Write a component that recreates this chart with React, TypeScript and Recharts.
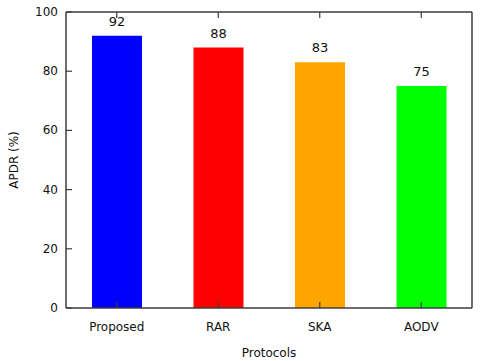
import React from 'react';
import { BarChart, Bar, XAxis, YAxis, LabelList, Cell } from 'recharts';

const protocols = ['Proposed', 'RAR', 'SKA', 'AODV'];
const apdr = [92, 88, 83, 75];
const barColors = ['#0000FF', '#FF0000', '#FFA500', '#00FF00'];
const yTicks = [0, 20, 40, 60, 80, 100];

const data = protocols.map((name, i) => ({ name, apdr: apdr[i] }));

const FONT = '"DejaVu Sans", Verdana, sans-serif';
const EDGE = '#3c3c3c';

const LeftTick = (props: any) => {
  const { x, y, payload } = props;
  return (
    <g>
      <line x1={x + 8} x2={x + 14} y1={y} y2={y} stroke={EDGE} strokeWidth={1.2} />
      <text x={x} y={y} dy={4} textAnchor="end" fontSize={12} fontFamily={FONT} fill="#111">
        {payload.value}
      </text>
    </g>
  );
};

// right and top frame ticks point inward, no labels
const RightTick = (props: any) => {
  const { x, y } = props;
  return <line x1={x - 6} x2={x} y1={y} y2={y} stroke={EDGE} strokeWidth={1.2} />;
};

const TopTick = (props: any) => {
  const { x, y } = props;
  return <line x1={x} x2={x} y1={y} y2={y + 6} stroke={EDGE} strokeWidth={1.2} />;
};

const BottomTick = (props: any) => {
  const { x, y, payload } = props;
  return (
    <g>
      <line x1={x} x2={x} y1={y - 14} y2={y - 20} stroke={EDGE} strokeWidth={1.2} />
      <text x={x} y={y} dy="0.71em" textAnchor="middle" fontSize={12} fontFamily={FONT} fill="#111">
        {payload.value}
      </text>
    </g>
  );
};

export default function App() {
  return (
    <div style={{ position: 'absolute', left: 0, top: 0, background: '#fff' }}>
      <BarChart
        width={480}
        height={361}
        data={data}
        margin={{ top: 11, right: 7, left: 0, bottom: 0 }}
        barSize={50}
      >
        <XAxis
          dataKey="name"
          height={53}
          tickSize={0}
          tickMargin={14}
          tick={<BottomTick />}
          axisLine={{ stroke: EDGE, strokeWidth: 1.5 }}
          tickLine={false}
          label={{ value: 'Protocols', position: 'insideBottom', offset: 4, fontSize: 12, fontFamily: FONT, fill: '#111' }}
        />
        <XAxis
          xAxisId="top"
          dataKey="name"
          orientation="top"
          height={1}
          tickSize={0}
          tickMargin={0}
          tick={<TopTick />}
          axisLine={{ stroke: EDGE, strokeWidth: 1.5 }}
          tickLine={false}
        />
        <YAxis
          width={66}
          domain={[0, 100]}
          ticks={yTicks}
          tickSize={0}
          tickMargin={8}
          tick={<LeftTick />}
          axisLine={{ stroke: EDGE, strokeWidth: 1.5 }}
          tickLine={false}
          label={{
            value: 'APDR (%)',
            angle: -90,
            position: 'insideLeft',
            offset: 14,
            textAnchor: 'middle',
            style: { textAnchor: 'middle' },
            fontSize: 12,
            fontFamily: FONT,
            fill: '#111',
          }}
        />
        <YAxis
          yAxisId="right"
          orientation="right"
          width={1}
          domain={[0, 100]}
          ticks={yTicks}
          tickSize={0}
          tickMargin={0}
          tick={<RightTick />}
          axisLine={{ stroke: EDGE, strokeWidth: 1.5 }}
          tickLine={false}
        />
        <Bar dataKey="apdr" isAnimationActive={false}>
          {data.map((d, i) => (
            <Cell key={d.name} fill={barColors[i]} />
          ))}
          <LabelList dataKey="apdr" position="top" offset={10} fontSize={13} fontFamily={FONT} fill="#111" />
        </Bar>
      </BarChart>
    </div>
  );
}
